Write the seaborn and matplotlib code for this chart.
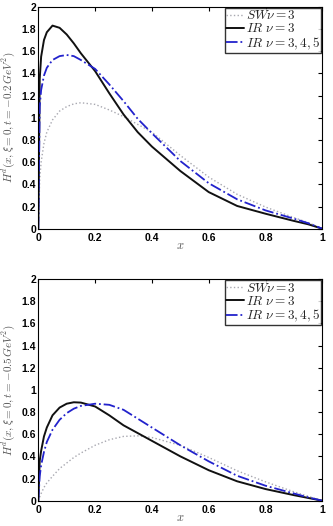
import numpy as np
import pandas as pd
import matplotlib
matplotlib.use("Agg")
import matplotlib.pyplot as plt
import seaborn as sns

# ---- data ----
x_pts = [0, 0.005, 0.01, 0.02, 0.03, 0.05, 0.075, 0.1, 0.125, 0.15, 0.2, 0.25,
         0.3, 0.35, 0.4, 0.5, 0.6, 0.7, 0.8, 0.9, 0.95, 1.0]

# top panel: t = -0.2 GeV^2
top_sw = [0, 0.45, 0.60, 0.77, 0.87, 0.98, 1.06, 1.10, 1.125, 1.135, 1.12, 1.07,
          1.01, 0.94, 0.87, 0.66, 0.465, 0.31, 0.195, 0.10, 0.055, 0]
top_ir3 = [0, 1.35, 1.55, 1.70, 1.77, 1.83, 1.81, 1.75, 1.67, 1.58, 1.42, 1.22,
           1.03, 0.87, 0.74, 0.52, 0.33, 0.205, 0.135, 0.07, 0.04, 0]
top_ir345 = [0, 1.10, 1.25, 1.38, 1.45, 1.52, 1.555, 1.565, 1.555, 1.52, 1.44, 1.30,
             1.15, 0.99, 0.86, 0.61, 0.41, 0.265, 0.165, 0.09, 0.05, 0]

# bottom panel: t = -0.5 GeV^2
bot_sw = [0, 0.035, 0.065, 0.12, 0.16, 0.22, 0.29, 0.34, 0.39, 0.43, 0.50, 0.55,
          0.58, 0.585, 0.57, 0.50, 0.39, 0.27, 0.17, 0.08, 0.04, 0]
bot_ir3 = [0, 0.36, 0.45, 0.58, 0.66, 0.77, 0.84, 0.875, 0.888, 0.885, 0.85, 0.77,
           0.68, 0.61, 0.54, 0.40, 0.275, 0.175, 0.105, 0.05, 0.025, 0]
bot_ir345 = [0, 0.22, 0.32, 0.44, 0.53, 0.64, 0.73, 0.79, 0.83, 0.855, 0.875, 0.865,
             0.82, 0.74, 0.66, 0.50, 0.355, 0.225, 0.135, 0.065, 0.03, 0]

series_labels = [r"$SW\nu=3$", r"$IR\ \nu=3$", r"$IR\ \nu=3,4,5$"]
ylabels = [r"$H^d(x,\xi=0,t=-0.2\,GeV^2)$", r"$H^d(x,\xi=0,t=-0.5\,GeV^2)$"]
xlabel = r"$x$"
xticks = [0, 0.2, 0.4, 0.6, 0.8, 1]
xticklabels = ["0", "0.2", "0.4", "0.6", "0.8", "1"]
yticks = [0, 0.2, 0.4, 0.6, 0.8, 1, 1.2, 1.4, 1.6, 1.8, 2]
yticklabels = ["0", "0.2", "0.4", "0.6", "0.8", "1", "1.2", "1.4", "1.6", "1.8", "2"]

sns.set_style("white")
plt.rcParams["font.family"] = ["Liberation Sans", "DejaVu Sans"]
plt.rcParams["mathtext.fontset"] = "cm"

fig = plt.figure(figsize=(3.33, 5.26), dpi=100)
ax_top = fig.add_axes([0.115, 0.5652, 0.853, 0.422])
ax_bot = fig.add_axes([0.115, 0.0481, 0.853, 0.4215])

styles = [dict(color="#a8a8b0", linestyle=":", linewidth=1.0),
          dict(color="#111111", linestyle="-", linewidth=1.4),
          dict(color="#2222cc", linestyle="-.", linewidth=1.3)]

for ax, vals, ylab, xly in [(ax_top, [top_sw, top_ir3, top_ir345], ylabels[0], -0.05),
                            (ax_bot, [bot_sw, bot_ir3, bot_ir345], ylabels[1], -0.052)]:
    for v, lab, st in zip(vals, series_labels, styles):
        df = pd.DataFrame({"x": x_pts, "y": v})
        sns.lineplot(data=df, x="x", y="y", ax=ax, label=lab, **st)
    ax.set_xlim(0, 1)
    ax.set_ylim(0, 2)
    ax.set_xticks(xticks)
    ax.set_xticklabels(xticklabels, fontsize=7.5, fontweight="bold")
    ax.set_yticks(yticks)
    ax.set_yticklabels(yticklabels, fontsize=7.5, fontweight="bold")
    ax.tick_params(direction="in", length=3, width=0.8, top=True, right=True,
                   colors="black")
    ax.tick_params(axis="x", pad=3)
    ax.tick_params(axis="y", pad=1.5)
    ax.set_xlabel(xlabel, fontsize=9, color="#555555")
    ax.xaxis.set_label_coords(0.5, xly)
    ax.set_ylabel(ylab, fontsize=8, color="#555555")
    ax.yaxis.set_label_coords(-0.075, 0.5)
    for sp in ax.spines.values():
        sp.set_color("black")
        sp.set_linewidth(0.8)
    leg = ax.legend(loc="upper right", fontsize=9.5, frameon=True, fancybox=False,
                    handlelength=1.3, handletextpad=0.15, borderpad=0.1,
                    labelspacing=0.0, borderaxespad=0.1, edgecolor="black")
    leg.get_frame().set_linewidth(1.0)

fig.savefig("out.png", dpi=100)
